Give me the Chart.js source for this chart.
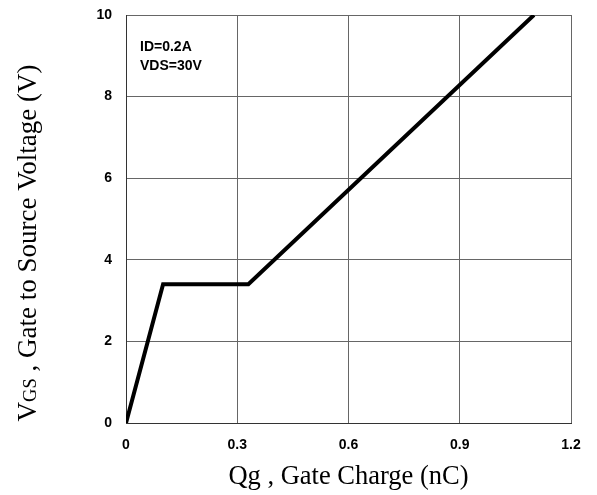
<!DOCTYPE html>
<html>
<head>
<meta charset="utf-8">
<script src="https://cdn.jsdelivr.net/npm/chart.js@4.4.1/dist/chart.umd.min.js"></script>
<style>
  html, body { margin: 0; padding: 0; background: #fff; }
  #wrap { width: 597px; height: 495px; position: relative; }
</style>
</head>
<body>
<div id="wrap"><canvas id="chart"></canvas></div>
<script>
// ── Data ─────────────────────────────────────────────────────
const gateCharge = [0, 0.1, 0.33, 1.1];     // Qg (nC)
const gateVoltage = [0, 3.4, 3.4, 10];      // VGS (V)
const xTickLabels = ['0', '0.3', '0.6', '0.9', '1.2'];
const yTickLabels = ['0', '2', '4', '6', '8', '10'];
const noteLines = ['ID=0.2A', 'VDS=30V'];

const tickFont = { family: '"Liberation Sans", Arial, sans-serif', size: 14, weight: 'bold' };
const serif = '"Liberation Serif", "Times New Roman", serif';

// y title with the GS subscript, drawn by hand
const yTitlePlugin = {
    id: 'yTitle',
    afterDraw(chart) {
        const ctx = chart.ctx;
        const parts = [
            { t: 'V', f: '27px ' + serif },
            { t: 'GS', f: '18.5px ' + serif },
            { t: ' , Gate to Source Voltage (V)', f: '27px ' + serif },
        ];
        ctx.save();
        let total = 0;
        parts.forEach(p => { ctx.font = p.f; p.w = ctx.measureText(p.t).width; total += p.w; });
        ctx.translate(36, 243);
        ctx.rotate(-Math.PI / 2);
        ctx.fillStyle = '#000';
        ctx.textBaseline = 'alphabetic';
        let x = -total / 2;
        parts.forEach(p => { ctx.font = p.f; ctx.fillText(p.t, x, 0); x += p.w; });
        ctx.restore();
    }
};

// condition note in the upper-left corner of the plot
const notePlugin = {
    id: 'note',
    afterDraw(chart) {
        const ctx = chart.ctx;
        const { left, top } = chart.chartArea;
        ctx.save();
        ctx.font = 'bold 14px "Liberation Sans", Arial, sans-serif';
        ctx.fillStyle = '#000';
        ctx.textBaseline = 'middle';
        noteLines.forEach((s, i) => ctx.fillText(s, left + 14, top + 32 + i * 19));
        ctx.restore();
    }
};

new Chart(document.getElementById('chart'), {
    type: 'scatter',
    data: {
        datasets: [{
            data: gateCharge.map((q, i) => ({ x: q, y: gateVoltage[i] })),
            showLine: true,
            borderColor: '#000',
            borderWidth: 4,
            pointRadius: 0,
            tension: 0,
        }],
    },
    options: {
        responsive: true,
        maintainAspectRatio: false,
        animation: false,
        layout: { padding: { left: 0, top: 15, right: 26, bottom: 0 } },
        plugins: { legend: { display: false }, tooltip: { enabled: false } },
        scales: {
            x: {
                type: 'linear',
                min: 0,
                max: 1.2,
                afterFit: s => { s.height = 72; },
                ticks: {
                    stepSize: 0.3,
                    color: '#000',
                    font: tickFont,
                    padding: 14,
                    maxRotation: 0,
                    callback: (v, i) => xTickLabels[i],
                },
                grid: { color: '#666', lineWidth: 1, drawTicks: false },
                border: { color: '#333', width: 1 },
                title: {
                    display: true,
                    text: 'Qg , Gate Charge (nC)',
                    color: '#000',
                    font: { family: serif, size: 26.5 },
                    padding: { top: 0, bottom: 2 },
                },
            },
            y: {
                type: 'linear',
                min: 0,
                max: 10,
                afterFit: s => { s.width = 126; s.paddingTop = 0; s.paddingBottom = 0; },
                ticks: {
                    stepSize: 2,
                    color: '#000',
                    font: tickFont,
                    padding: 14,
                    callback: (v, i) => yTickLabels[i],
                },
                grid: { color: '#666', lineWidth: 1, drawTicks: false },
                border: { color: '#333', width: 1 },
            },
        },
    },
    plugins: [yTitlePlugin, notePlugin],
});
</script>
</body>
</html>
